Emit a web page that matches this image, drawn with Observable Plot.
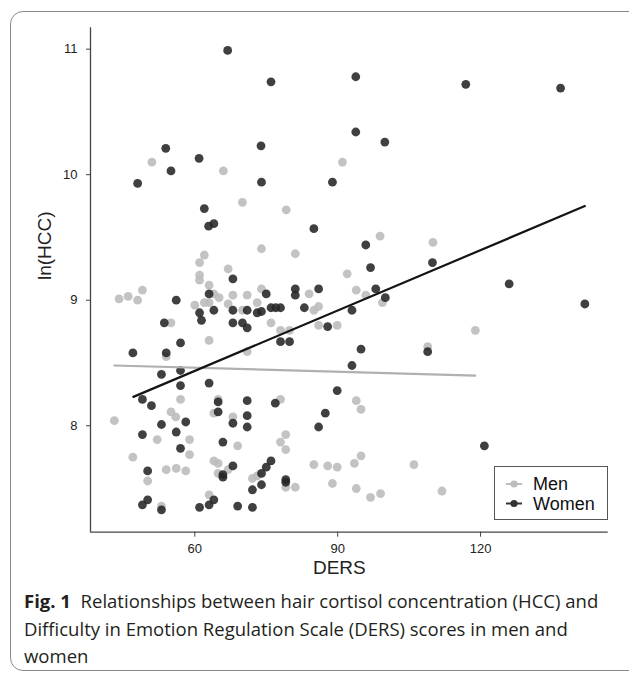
<!DOCTYPE html>
<html>
<head>
<meta charset="utf-8">
<script src="https://cdn.jsdelivr.net/npm/d3@7"></script>
<script src="https://cdn.jsdelivr.net/npm/@observablehq/plot@0.6"></script>
<style>
  html, body { margin: 0; padding: 0; background: #fff; overflow: hidden; }
  #wrap { position: relative; width: 629px; height: 674px; overflow: hidden; background: #fff; }
  #frame { position: absolute; left: 9.5px; top: 11px; width: 640px; height: 660px;
           border: 1px solid #8a8a8a; border-radius: 13px; box-sizing: border-box; }
  #chart { position: absolute; left: 0; top: 0; }
  #legend { position: absolute; left: 494px; top: 466px; width: 114px; height: 54px;
            border: 1px solid #555; box-sizing: border-box; background: #fff; }
  .cap { position: absolute; left: 24px; height: 27px; line-height: 27px; white-space: nowrap;
         font-family: "Open Sans", "Noto Sans", sans-serif; color: #231f20; }
  .cap b { font-weight: 700; }
</style>
</head>
<body>
<div id="wrap">
  <div id="frame"></div>
  <div id="chart"></div>
  <div id="legend"></div>
  <div class="cap" id="cap1" style="top:587px"></div>
  <div class="cap" id="cap2" style="top:614.5px"></div>
  <div class="cap" id="cap3" style="top:642px"></div>
</div>
<script>
// ---- Data ----
const groups = ["Men", "Women"];
const groupColors = ["#bdbdbd", "#3a3a3a"];

const menX = [51.0,66.0,91.0,70.0,79.2,98.9,74.0,110.0,81.1,62.0,61.0,67.0,92.0,61.0,61.0,63.0,
  44.1,46.0,48.0,49.0,60.0,62.0,63.0,64.0,65.1,68.0,71.0,67.0,70.0,73.1,74.0,84.0,86.0,85.0,
  93.9,95.9,99.4,76.0,78.0,79.9,86.0,89.9,55.0,63.0,71.0,54.0,108.9,118.9,57.0,64.9,78.0,
  93.9,94.9,43.1,55.0,56.0,64.0,68.0,52.1,58.9,69.0,47.0,58.9,78.0,79.1,79.1,64.0,64.9,
  54.0,56.1,58.1,50.1,64.9,67.0,72.1,73.1,79.1,81.1,85.0,87.9,89.9,88.9,94.9,93.5,106.0,
  93.9,96.9,99.0,111.9,63.0,53.0];
const menY = [10.10,10.03,10.10,9.78,9.72,9.51,9.41,9.46,9.37,9.36,9.30,9.25,9.21,9.20,9.16,9.12,
  9.01,9.03,9.00,9.08,8.96,8.98,8.98,9.05,9.02,9.04,9.04,8.97,8.92,8.98,9.09,9.05,8.95,8.92,
  9.08,9.04,8.98,8.82,8.76,8.76,8.80,8.80,8.82,8.68,8.59,8.55,8.63,8.76,8.21,8.21,8.21,
  8.20,8.13,8.04,8.11,8.07,8.10,8.07,7.89,7.89,7.84,7.75,7.77,7.87,7.93,7.81,7.72,7.70,
  7.65,7.66,7.64,7.56,7.62,7.65,7.58,7.60,7.51,7.51,7.69,7.68,7.67,7.54,7.76,7.70,7.69,
  7.50,7.43,7.46,7.48,7.45,7.36];

const womenX = [66.9,76.0,93.8,116.9,136.8,93.8,99.9,53.9,73.9,60.9,55.0,48.0,74.0,88.9,62.0,62.9,
  64.0,85.0,95.9,109.9,96.9,68.0,126.0,86.0,81.1,81.1,98.0,100.0,63.0,75.0,56.1,141.9,64.0,
  68.0,71.0,73.1,74.0,76.0,77.0,78.0,83.0,93.0,61.0,61.4,53.6,68.0,70.0,71.0,87.9,78.0,79.9,
  57.0,47.0,54.0,108.9,94.9,93.0,53.0,57.0,57.0,63.0,89.9,49.0,50.9,76.9,64.9,71.0,64.9,
  71.0,87.4,68.0,58.1,53.0,86.0,71.0,56.1,49.0,65.9,57.0,120.8,76.0,75.0,74.0,68.0,50.1,
  65.9,65.9,74.0,79.1,79.1,72.1,49.0,50.1,53.0,61.0,63.0,64.0,69.0,72.1];
const womenY = [10.99,10.74,10.78,10.72,10.69,10.34,10.26,10.21,10.23,10.13,10.03,9.93,9.94,9.94,9.73,9.59,
  9.61,9.57,9.44,9.30,9.26,9.17,9.13,9.09,9.09,9.04,9.09,9.02,9.05,9.05,9.00,8.97,8.92,
  8.92,8.92,8.90,8.91,8.94,8.94,8.94,8.94,8.92,8.90,8.84,8.82,8.82,8.82,8.78,8.79,8.67,8.67,
  8.66,8.58,8.58,8.59,8.61,8.48,8.41,8.44,8.32,8.34,8.28,8.21,8.16,8.18,8.19,8.20,8.11,
  8.08,8.10,8.02,8.03,8.01,7.99,7.99,7.95,7.93,7.87,7.82,7.84,7.72,7.67,7.62,7.68,7.64,
  7.61,7.59,7.53,7.57,7.55,7.49,7.37,7.41,7.33,7.35,7.37,7.41,7.36,7.35];

// fitted regression lines (end points)
const menFitX = [43.1, 118.9];
const menFitY = [8.48, 8.40];
const womenFitX = [47.1, 141.9];
const womenFitY = [8.23, 9.75];

const xTicks = [60, 90, 120];
const yTicks = [8, 9, 10, 11];
const xDomain = [38.1, 146.8];
const yDomain = [7.152, 11.17];

const xLabel = "DERS";
const yLabel = "ln(HCC)";
const captionBold = "Fig. 1";
const captionLines = [
  "Relationships between hair cortisol concentration (HCC) and",
  "Difficulty in Emotion Regulation Scale (DERS) scores in men and",
  "women"
];

const FONT = "Liberation Sans, Arimo, Arial, Helvetica, sans-serif";

// ---- Build tables ----
const men = menX.map((x, i) => ({x, y: menY[i]}));
const women = womenX.map((x, i) => ({x, y: womenY[i]}));
const menFit = menFitX.map((x, i) => ({x, y: menFitY[i]}));
const womenFit = womenFitX.map((x, i) => ({x, y: womenFitY[i]}));

const chart = Plot.plot({
  width: 629,
  height: 590,
  marginLeft: 90,
  marginRight: 21.3,
  marginTop: 27.3,
  marginBottom: 58.3,
  style: {fontFamily: FONT, fontSize: "13px", color: "#222", background: "transparent", overflow: "visible"},
  x: {domain: xDomain},
  y: {domain: yDomain},
  marks: [
    Plot.dot(men, {x: "x", y: "y", r: 4.4, fill: groupColors[0], fillOpacity: 0.9}),
    Plot.dot(women, {x: "x", y: "y", r: 4.4, fill: "#262626", fillOpacity: 0.88}),
    Plot.line(menFit, {x: "x", y: "y", stroke: "#b0b0b0", strokeWidth: 2.2}),
    Plot.line(womenFit, {x: "x", y: "y", stroke: "#141414", strokeWidth: 2.2}),
    Plot.ruleX([xDomain[0]], {stroke: "#444", strokeWidth: 1.3}),
    Plot.ruleY([yDomain[0]], {stroke: "#444", strokeWidth: 1.3}),
    Plot.axisX(xTicks, {tickSize: 5, tickPadding: 7, stroke: "#444", fill: "#222", fontSize: 13, tickFormat: d => String(d), label: null, fontFamily: FONT}),
    Plot.axisY(yTicks, {tickSize: 4, tickPadding: 9, stroke: "#444", fill: "#222", fontSize: 13, tickFormat: d => String(d), label: null, fontFamily: FONT}),
    Plot.text([xLabel], {frameAnchor: "bottom", dx: -10, dy: 42, fontSize: 19, fill: "#222", fontFamily: FONT}),
    Plot.text([yLabel], {frameAnchor: "left", dx: -46, rotate: -90, fontSize: 19, fill: "#222", fontFamily: FONT})
  ]
});
document.getElementById("chart").appendChild(chart);

// ---- Legend ----
const legend = d3.select("#legend");
const lsvg = legend.append("svg").attr("width", 112).attr("height", 52).style("position", "absolute").style("left", 0).style("top", 0);
groups.forEach((g, i) => {
  const cy = 17 + i * 19.5;
  const col = i === 0 ? "#bdbdbd" : "#333";
  lsvg.append("line").attr("x1", 11).attr("x2", 27).attr("y1", cy).attr("y2", cy).attr("stroke", col).attr("stroke-width", 2);
  lsvg.append("circle").attr("cx", 19).attr("cy", cy).attr("r", 3.6).attr("fill", col);
  lsvg.append("text").attr("x", 38).attr("y", cy).attr("dy", "0.36em").text(g)
    .attr("font-family", FONT).attr("font-size", 18).attr("fill", "#111");
});

// ---- Caption ----
const c1 = document.getElementById("cap1");
c1.innerHTML = "<b>" + captionBold + "</b>&nbsp;&nbsp;" + captionLines[0];
document.getElementById("cap2").textContent = captionLines[1];
document.getElementById("cap3").textContent = captionLines[2];
// fit caption font so the first line spans the same width as in the figure
let fs = 18;
document.querySelectorAll(".cap").forEach(d => d.style.fontSize = fs + "px");
const w1 = c1.getBoundingClientRect().width;
fs = Math.max(14, Math.min(22, fs * 575 / w1));
document.querySelectorAll(".cap").forEach(d => d.style.fontSize = fs + "px");
</script>
</body>
</html>
